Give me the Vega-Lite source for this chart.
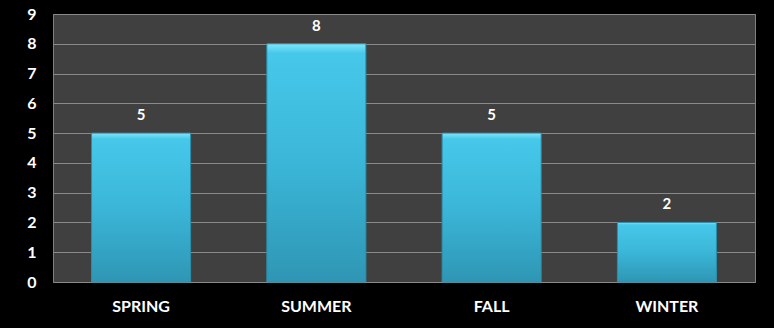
{
  "$schema": "https://vega.github.io/schema/vega-lite/v6.json",
  "autosize": {"type": "none"},
  "width": 702,
  "height": 268,
  "padding": {"left": 53, "top": 14, "right": 19, "bottom": 46},
  "background": "#000000",
  "config": {
    "view": {"fill": "#404040", "stroke": "#808080", "strokeWidth": 1},
    "font": "Lato"
  },
  "data": {"values": [
    {"season": "SPRING", "value": 5},
    {"season": "SUMMER", "value": 8},
    {"season": "FALL", "value": 5},
    {"season": "WINTER", "value": 2}
  ]},
  "encoding": {
    "x": {"field": "season", "type": "nominal", "sort": null,
      "scale": {"paddingInner": 0.435, "paddingOuter": 0.22},
      "axis": {"title": null, "labelAngle": 0, "labelColor": "#ffffff", "labelFont": "Lato", "labelFontWeight": "bold", "labelFontSize": 16, "labelPadding": 16, "ticks": false, "domain": false}},
    "y": {"field": "value", "type": "quantitative",
      "scale": {"domain": [0, 9], "nice": false},
      "axis": {"title": null, "values": [0, 1, 2, 3, 4, 5, 6, 7, 8, 9], "labelOverlap": false, "labelColor": "#ffffff", "labelFont": "Lato", "labelFontWeight": "bold", "labelFontSize": 16, "labelPadding": 17, "ticks": false, "domain": false, "gridColor": "#8a8a8a", "gridWidth": 1}}
  },
  "layer": [
    {"mark": {"type": "bar", "stroke": "#2a8fab", "strokeWidth": 1,
      "color": {"gradient": "linear", "x1": 0, "y1": 0, "x2": 0, "y2": 1,
        "stops": [{"offset": 0, "color": "#7ee6fb"}, {"offset": 0.04, "color": "#46c8ea"}, {"offset": 0.5, "color": "#3bb6d8"}, {"offset": 1, "color": "#2f96b4"}]}}},
    {"mark": {"type": "text", "dy": -18, "color": "#ffffff", "fontWeight": "bold", "fontSize": 15, "font": "Lato"},
      "encoding": {"text": {"field": "value", "type": "quantitative"}}}
  ]
}
